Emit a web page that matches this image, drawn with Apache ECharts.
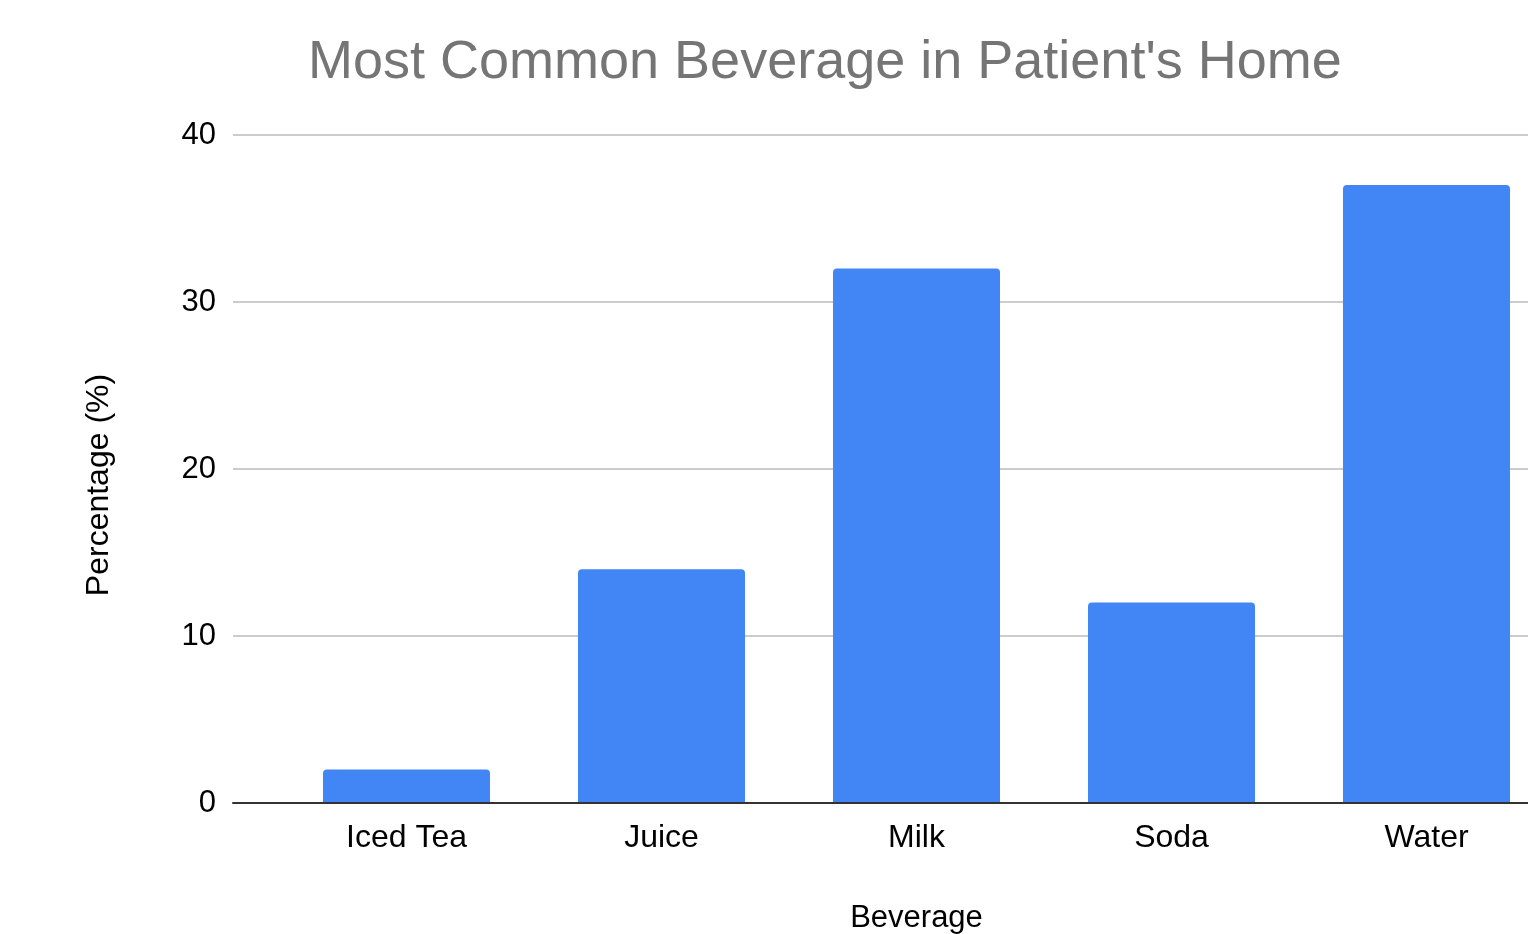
<!DOCTYPE html>
<html>
<head>
<meta charset="utf-8">
<script src="https://cdn.jsdelivr.net/npm/echarts@6/dist/echarts.min.js"></script>
<style>html,body{margin:0;padding:0;background:#fff;}#chart{width:1528px;height:934px;}</style>
</head>
<body>
<div id="chart"></div>
<script>
const titleText = "Most Common Beverage in Patient's Home";
const categories = ["Iced Tea", "Juice", "Milk", "Soda", "Water"];
const percentages = [2, 14, 32, 12, 37];
const yTicks = { min: 0, max: 40, interval: 10 };
const xAxisName = "Beverage";
const yAxisName = "Percentage (%)";

const font = "'Liberation Sans', Arial, sans-serif";
const chart = echarts.init(document.getElementById('chart'), null, { renderer: 'canvas' });
chart.setOption({
  animation: false,
  backgroundColor: '#ffffff',
  title: {
    text: titleText,
    left: 303,
    top: 31,
    textStyle: { fontFamily: font, fontSize: 54, fontWeight: 'normal', color: '#757575' }
  },
  grid: [
    { left: 233, right: 0, top: 135, bottom: 131, containLabel: false, outerBoundsMode: 'none' },
    { left: 279, width: 1275, top: 135, bottom: 131, containLabel: false, outerBoundsMode: 'none' }
  ],
  xAxis: [
    {
      gridIndex: 0, type: 'value', min: 0, max: 1,
      axisLine: { show: true, onZero: true, lineStyle: { color: '#333333', width: 2 } },
      axisTick: { show: false }, axisLabel: { show: false }, splitLine: { show: false },
      z: 5
    },
    {
      gridIndex: 1, type: 'category', data: categories,
      axisLine: { show: false }, axisTick: { show: false },
      axisLabel: { fontFamily: font, fontSize: 32, color: '#000000', margin: 19 },
      name: xAxisName, nameLocation: 'middle', nameGap: 100,
      nameTextStyle: { fontFamily: font, fontSize: 31, color: '#000000' }
    }
  ],
  yAxis: [
    {
      gridIndex: 0, type: 'value', min: yTicks.min, max: yTicks.max, interval: yTicks.interval,
      axisLine: { show: false }, axisTick: { show: false },
      axisLabel: { fontFamily: font, fontSize: 31, color: '#000000', margin: 17 },
      splitLine: { show: true, lineStyle: { color: '#cccccc', width: 2 } },
      name: yAxisName, nameLocation: 'middle', nameGap: 118, nameRotate: 90,
      nameTextStyle: { fontFamily: font, fontSize: 32, color: '#000000', padding: [0, 32, 0, 0] }
    },
    {
      gridIndex: 1, type: 'value', min: yTicks.min, max: yTicks.max, interval: yTicks.interval,
      show: false, splitLine: { show: false }
    }
  ],
  series: [{
    type: 'bar',
    xAxisIndex: 1, yAxisIndex: 1,
    data: percentages,
    barWidth: '65.5%',
    itemStyle: { color: '#4285F4', borderRadius: [4, 4, 0, 0] },
    z: 1
  }]
});
</script>
</body>
</html>
